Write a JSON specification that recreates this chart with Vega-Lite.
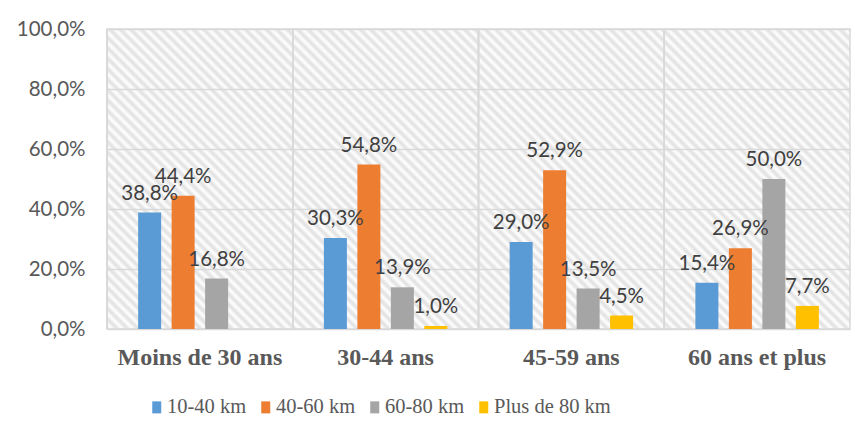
{
  "$schema": "https://vega.github.io/schema/vega-lite/v6.json",
  "width": 743,
  "height": 300,
  "autosize": {"type": "none"},
  "padding": {"left": 107, "top": 29, "right": 5, "bottom": 115},
  "background": "white",
  "config": {
    "locale": {"number": {"decimal": ",", "thousands": " ", "grouping": [3], "currency": ["", " €"]}},
    "view": {
      "stroke": "#d9d9d9",
      "strokeWidth": 1.5,
      "fill": {
        "gradient": "linear", "x1": 0, "y1": 1, "x2": 1.2071, "y2": 0.5126,
        "stops": [
{"offset":0,"color":"#e0e0e0"},{"offset":0.005,"color":"#fff"},{"offset":0.01,"color":"#e0e0e0"},{"offset":0.015,"color":"#fff"},{"offset":0.02,"color":"#e0e0e0"},{"offset":0.025,"color":"#fff"},{"offset":0.03,"color":"#e0e0e0"},{"offset":0.035,"color":"#fff"},{"offset":0.04,"color":"#e0e0e0"},{"offset":0.045,"color":"#fff"},
{"offset":0.05,"color":"#e0e0e0"},{"offset":0.055,"color":"#fff"},{"offset":0.06,"color":"#e0e0e0"},{"offset":0.065,"color":"#fff"},{"offset":0.07,"color":"#e0e0e0"},{"offset":0.075,"color":"#fff"},{"offset":0.08,"color":"#e0e0e0"},{"offset":0.085,"color":"#fff"},{"offset":0.09,"color":"#e0e0e0"},{"offset":0.095,"color":"#fff"},
{"offset":0.1,"color":"#e0e0e0"},{"offset":0.105,"color":"#fff"},{"offset":0.11,"color":"#e0e0e0"},{"offset":0.115,"color":"#fff"},{"offset":0.12,"color":"#e0e0e0"},{"offset":0.125,"color":"#fff"},{"offset":0.13,"color":"#e0e0e0"},{"offset":0.135,"color":"#fff"},{"offset":0.14,"color":"#e0e0e0"},{"offset":0.145,"color":"#fff"},
{"offset":0.15,"color":"#e0e0e0"},{"offset":0.155,"color":"#fff"},{"offset":0.16,"color":"#e0e0e0"},{"offset":0.165,"color":"#fff"},{"offset":0.17,"color":"#e0e0e0"},{"offset":0.175,"color":"#fff"},{"offset":0.18,"color":"#e0e0e0"},{"offset":0.185,"color":"#fff"},{"offset":0.19,"color":"#e0e0e0"},{"offset":0.195,"color":"#fff"},
{"offset":0.2,"color":"#e0e0e0"},{"offset":0.205,"color":"#fff"},{"offset":0.21,"color":"#e0e0e0"},{"offset":0.215,"color":"#fff"},{"offset":0.22,"color":"#e0e0e0"},{"offset":0.225,"color":"#fff"},{"offset":0.23,"color":"#e0e0e0"},{"offset":0.235,"color":"#fff"},{"offset":0.24,"color":"#e0e0e0"},{"offset":0.245,"color":"#fff"},
{"offset":0.25,"color":"#e0e0e0"},{"offset":0.255,"color":"#fff"},{"offset":0.26,"color":"#e0e0e0"},{"offset":0.265,"color":"#fff"},{"offset":0.27,"color":"#e0e0e0"},{"offset":0.275,"color":"#fff"},{"offset":0.28,"color":"#e0e0e0"},{"offset":0.285,"color":"#fff"},{"offset":0.29,"color":"#e0e0e0"},{"offset":0.295,"color":"#fff"},
{"offset":0.3,"color":"#e0e0e0"},{"offset":0.305,"color":"#fff"},{"offset":0.31,"color":"#e0e0e0"},{"offset":0.315,"color":"#fff"},{"offset":0.32,"color":"#e0e0e0"},{"offset":0.325,"color":"#fff"},{"offset":0.33,"color":"#e0e0e0"},{"offset":0.335,"color":"#fff"},{"offset":0.34,"color":"#e0e0e0"},{"offset":0.345,"color":"#fff"},
{"offset":0.35,"color":"#e0e0e0"},{"offset":0.355,"color":"#fff"},{"offset":0.36,"color":"#e0e0e0"},{"offset":0.365,"color":"#fff"},{"offset":0.37,"color":"#e0e0e0"},{"offset":0.375,"color":"#fff"},{"offset":0.38,"color":"#e0e0e0"},{"offset":0.385,"color":"#fff"},{"offset":0.39,"color":"#e0e0e0"},{"offset":0.395,"color":"#fff"},
{"offset":0.4,"color":"#e0e0e0"},{"offset":0.405,"color":"#fff"},{"offset":0.41,"color":"#e0e0e0"},{"offset":0.415,"color":"#fff"},{"offset":0.42,"color":"#e0e0e0"},{"offset":0.425,"color":"#fff"},{"offset":0.43,"color":"#e0e0e0"},{"offset":0.435,"color":"#fff"},{"offset":0.44,"color":"#e0e0e0"},{"offset":0.445,"color":"#fff"},
{"offset":0.45,"color":"#e0e0e0"},{"offset":0.455,"color":"#fff"},{"offset":0.46,"color":"#e0e0e0"},{"offset":0.465,"color":"#fff"},{"offset":0.47,"color":"#e0e0e0"},{"offset":0.475,"color":"#fff"},{"offset":0.48,"color":"#e0e0e0"},{"offset":0.485,"color":"#fff"},{"offset":0.49,"color":"#e0e0e0"},{"offset":0.495,"color":"#fff"},
{"offset":0.5,"color":"#e0e0e0"},{"offset":0.505,"color":"#fff"},{"offset":0.51,"color":"#e0e0e0"},{"offset":0.515,"color":"#fff"},{"offset":0.52,"color":"#e0e0e0"},{"offset":0.525,"color":"#fff"},{"offset":0.53,"color":"#e0e0e0"},{"offset":0.535,"color":"#fff"},{"offset":0.54,"color":"#e0e0e0"},{"offset":0.545,"color":"#fff"},
{"offset":0.55,"color":"#e0e0e0"},{"offset":0.555,"color":"#fff"},{"offset":0.56,"color":"#e0e0e0"},{"offset":0.565,"color":"#fff"},{"offset":0.57,"color":"#e0e0e0"},{"offset":0.575,"color":"#fff"},{"offset":0.58,"color":"#e0e0e0"},{"offset":0.585,"color":"#fff"},{"offset":0.59,"color":"#e0e0e0"},{"offset":0.595,"color":"#fff"},
{"offset":0.6,"color":"#e0e0e0"},{"offset":0.605,"color":"#fff"},{"offset":0.61,"color":"#e0e0e0"},{"offset":0.615,"color":"#fff"},{"offset":0.62,"color":"#e0e0e0"},{"offset":0.625,"color":"#fff"},{"offset":0.63,"color":"#e0e0e0"},{"offset":0.635,"color":"#fff"},{"offset":0.64,"color":"#e0e0e0"},{"offset":0.645,"color":"#fff"},
{"offset":0.65,"color":"#e0e0e0"},{"offset":0.655,"color":"#fff"},{"offset":0.66,"color":"#e0e0e0"},{"offset":0.665,"color":"#fff"},{"offset":0.67,"color":"#e0e0e0"},{"offset":0.675,"color":"#fff"},{"offset":0.68,"color":"#e0e0e0"},{"offset":0.685,"color":"#fff"},{"offset":0.69,"color":"#e0e0e0"},{"offset":0.695,"color":"#fff"},
{"offset":0.7,"color":"#e0e0e0"},{"offset":0.705,"color":"#fff"},{"offset":0.71,"color":"#e0e0e0"},{"offset":0.715,"color":"#fff"},{"offset":0.72,"color":"#e0e0e0"},{"offset":0.725,"color":"#fff"},{"offset":0.73,"color":"#e0e0e0"},{"offset":0.735,"color":"#fff"},{"offset":0.74,"color":"#e0e0e0"},{"offset":0.745,"color":"#fff"},
{"offset":0.75,"color":"#e0e0e0"},{"offset":0.755,"color":"#fff"},{"offset":0.76,"color":"#e0e0e0"},{"offset":0.765,"color":"#fff"},{"offset":0.77,"color":"#e0e0e0"},{"offset":0.775,"color":"#fff"},{"offset":0.78,"color":"#e0e0e0"},{"offset":0.785,"color":"#fff"},{"offset":0.79,"color":"#e0e0e0"},{"offset":0.795,"color":"#fff"},
{"offset":0.8,"color":"#e0e0e0"},{"offset":0.805,"color":"#fff"},{"offset":0.81,"color":"#e0e0e0"},{"offset":0.815,"color":"#fff"},{"offset":0.82,"color":"#e0e0e0"},{"offset":0.825,"color":"#fff"},{"offset":0.83,"color":"#e0e0e0"},{"offset":0.835,"color":"#fff"},{"offset":0.84,"color":"#e0e0e0"},{"offset":0.845,"color":"#fff"},
{"offset":0.85,"color":"#e0e0e0"},{"offset":0.855,"color":"#fff"},{"offset":0.86,"color":"#e0e0e0"},{"offset":0.865,"color":"#fff"},{"offset":0.87,"color":"#e0e0e0"},{"offset":0.875,"color":"#fff"},{"offset":0.88,"color":"#e0e0e0"},{"offset":0.885,"color":"#fff"},{"offset":0.89,"color":"#e0e0e0"},{"offset":0.895,"color":"#fff"},
{"offset":0.9,"color":"#e0e0e0"},{"offset":0.905,"color":"#fff"},{"offset":0.91,"color":"#e0e0e0"},{"offset":0.915,"color":"#fff"},{"offset":0.92,"color":"#e0e0e0"},{"offset":0.925,"color":"#fff"},{"offset":0.93,"color":"#e0e0e0"},{"offset":0.935,"color":"#fff"},{"offset":0.94,"color":"#e0e0e0"},{"offset":0.945,"color":"#fff"},
{"offset":0.95,"color":"#e0e0e0"},{"offset":0.955,"color":"#fff"},{"offset":0.96,"color":"#e0e0e0"},{"offset":0.965,"color":"#fff"},{"offset":0.97,"color":"#e0e0e0"},{"offset":0.975,"color":"#fff"},{"offset":0.98,"color":"#e0e0e0"},{"offset":0.985,"color":"#fff"},{"offset":0.99,"color":"#e0e0e0"},{"offset":0.995,"color":"#fff"},
{"offset":1,"color":"#e0e0e0"}
        ]
      }
    },
    "legend": {
      "orient": "none",
      "legendX": 39.5,
      "legendY": 368,
      "direction": "horizontal",
      "title": null,
      "symbolType": "M-0.75,-1H0.75V1H-0.75Z",
      "symbolSize": 144,
      "symbolStrokeWidth": 0,
      "labelFont": "Liberation Serif",
      "labelFontSize": 20.5,
      "labelColor": "#595959",
      "labelOffset": 0,
      "columnPadding": 9,
      "padding": 0
    }
  },
  "data": {
    "values": [
      {"age": "Moins de 30 ans", "distance": "10-40 km", "v": 0.388},
      {"age": "Moins de 30 ans", "distance": "40-60 km", "v": 0.444},
      {"age": "Moins de 30 ans", "distance": "60-80 km", "v": 0.168},
      {"age": "30-44 ans", "distance": "10-40 km", "v": 0.303},
      {"age": "30-44 ans", "distance": "40-60 km", "v": 0.548},
      {"age": "30-44 ans", "distance": "60-80 km", "v": 0.139},
      {"age": "30-44 ans", "distance": "Plus de 80 km", "v": 0.010},
      {"age": "45-59 ans", "distance": "10-40 km", "v": 0.290},
      {"age": "45-59 ans", "distance": "40-60 km", "v": 0.529},
      {"age": "45-59 ans", "distance": "60-80 km", "v": 0.135},
      {"age": "45-59 ans", "distance": "Plus de 80 km", "v": 0.045},
      {"age": "60 ans et plus", "distance": "10-40 km", "v": 0.154},
      {"age": "60 ans et plus", "distance": "40-60 km", "v": 0.269},
      {"age": "60 ans et plus", "distance": "60-80 km", "v": 0.500},
      {"age": "60 ans et plus", "distance": "Plus de 80 km", "v": 0.077}
    ]
  },
  "layer": [
    {
      "mark": {"type": "rule", "color": "#d9d9d9", "strokeWidth": 1.5},
      "encoding": {
        "x": {"field": "age", "type": "nominal", "bandPosition": 0,
              "sort": ["Moins de 30 ans", "30-44 ans", "45-59 ans", "60 ans et plus"],
              "axis": {"bandPosition": 0.5, "labelAlign": "center"}}
      }
    },
    {
      "mark": {"type": "bar"},
      "encoding": {
        "x": {"field": "age", "type": "nominal",
              "sort": ["Moins de 30 ans", "30-44 ans", "45-59 ans", "60 ans et plus"],
              "scale": {"paddingInner": 0, "paddingOuter": 0},
              "axis": {"title": null, "ticks": false, "domain": false, "grid": false, "labelAngle": 0,
                       "bandPosition": 0.5, "labelAlign": "center", "labelBaseline": "top",
                       "labelFont": "Liberation Serif", "labelFontWeight": "bold", "labelFontSize": 24,
                       "labelColor": "#595959", "labelPadding": 16}},
        "xOffset": {"field": "distance", "type": "nominal",
                    "sort": ["10-40 km", "40-60 km", "60-80 km", "Plus de 80 km"],
                    "scale": {"paddingInner": 0.313, "paddingOuter": 0.93}},
        "y": {"field": "v", "type": "quantitative",
              "scale": {"domain": [0, 1]},
              "axis": {"values": [0, 0.2, 0.4, 0.6, 0.8, 1], "format": ".1%", "title": null,
                       "ticks": false, "domain": false, "labelPadding": 22,
                       "gridColor": "#d9d9d9", "gridWidth": 1.5,
                       "labelFont": "Lato", "labelFontSize": 20.5, "labelColor": "#595959"}},
        "color": {"field": "distance", "type": "nominal",
                  "sort": ["10-40 km", "40-60 km", "60-80 km", "Plus de 80 km"],
                  "scale": {"domain": ["10-40 km", "40-60 km", "60-80 km", "Plus de 80 km"],
                            "range": ["#5b9bd5", "#ed7d31", "#a5a5a5", "#ffc000"]}}
      }
    },
    {
      "mark": {"type": "text", "font": "Lato", "fontSize": 20.5, "color": "#404040",
               "baseline": "alphabetic", "align": "center", "dy": -13},
      "encoding": {
        "x": {"field": "age", "type": "nominal",
              "sort": ["Moins de 30 ans", "30-44 ans", "45-59 ans", "60 ans et plus"]},
        "xOffset": {"field": "distance", "type": "nominal",
                    "sort": ["10-40 km", "40-60 km", "60-80 km", "Plus de 80 km"]},
        "y": {"field": "v", "type": "quantitative"},
        "text": {"field": "v", "type": "quantitative", "format": ".1%"}
      }
    }
  ]
}
